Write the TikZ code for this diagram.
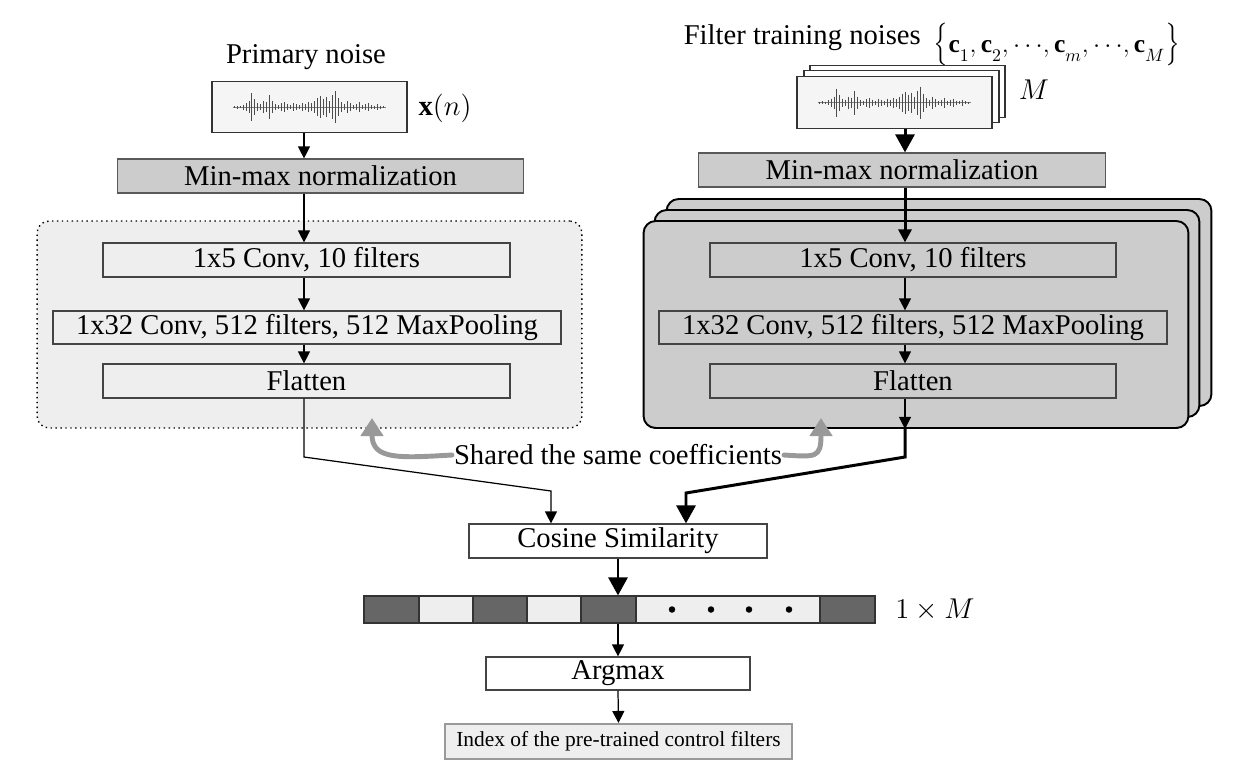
\RequirePackage{fix-cm}
\documentclass[tikz,border=0pt]{standalone}
\usepackage{amsmath}
\usepackage{amssymb}
\usepackage{graphicx}
\usepackage{fontspec}
\setmainfont{Liberation Serif}
\usepackage{tikz}
\usetikzlibrary{positioning, arrows.meta}

\definecolor{paleG}{HTML}{EEEEEE}
\definecolor{midG}{HTML}{CCCCCC}
\definecolor{darkG}{HTML}{666666}
\definecolor{edgeG}{HTML}{444444}
\definecolor{shareG}{HTML}{999999}

\newcommand{\csub}[1]{\mathbf{c}_{\lower2.5pt\hbox{$\scriptstyle #1$}}}
\newcommand{\tallbrace}[1]{\scalebox{1}[1.4]{$\big#1$}}

\tikzset{
  blk/.style={draw=edgeG, line width=0.7pt, inner sep=0pt, minimum height=0.68cm},
  normbox/.style={blk, fill=midG, draw=black!65, minimum width=8.13cm},
  wavebox/.style={draw=black!80, line width=0.7pt, minimum width=3.9cm, minimum height=1.03cm},
  panel/.style={rounded corners=0.24cm, minimum width=10.9cm, minimum height=4.14cm},
  cell/.style={draw=black!80, line width=0.7pt, inner sep=0pt, minimum height=0.54cm},
  arr/.style={-{Triangle[length=0.24cm,width=0.24cm]}, line width=0.7pt},
  thickarr/.style={-{Triangle[length=0.26cm,width=0.26cm]}, line width=1.7pt},
  bigarr/.style={-{Triangle[length=0.36cm,width=0.38cm]}, line width=1.7pt},
  sharearr/.style={-{Triangle[length=0.36cm,width=0.44cm]}, line width=2.8pt, draw=shareG, line cap=round},
  pics/noisewave/.style={code={
    \draw[line width=0.3pt, gray] (-77,0) -- (76,0);
    \foreach \dx/\h in {-75/1,-72/1.5,-69/1,-66/2.5,-63/4,-60/6,-58/14,-55/8,-52/4,-49/3,
                        -46/6,-43/5,-40/12,-37/6,-34/3,-31/2,-28/4,-25/5,-22/3,-19/2,
                        -16/4,-13/3,-10/2,-7/4,-4/3,-1/5,2/4,5/6,8/9,11/11,14/8,17/10,
                        20/6,23/12,26/16,29/9,32/5,35/3,38/6,41/4,44/2,47/3,50/5,53/2,
                        56/3,59/4,62/2,65/1.5,68/3,71/1.5,74/1}
      \draw[line width=0.45pt, black!70] (\dx,-\h) -- (\dx,\h);
  }}
}

\begin{document}
\begin{tikzpicture}[x=0.02cm, y=-0.02cm, font=\fontsize{16.3}{19}\selectfont]
\useasboundingbox (0,0) rectangle (1252,779);

% left branch: primary noise
\node (primlbl) at (306,57) {Primary noise};
\node[wavebox, fill=paleG!60!white] (xbox) at (309.5,107) {};
\pic at (xbox.center) {noisewave};
\node (xlbl) at (445,108) {$\mathbf{x}(n)$};
\node[normbox] (normL) at (320.5,176) {Min-max normalization};

\node[panel, draw=black, dotted, line width=0.8pt, fill=paleG] (regionL) at (309.5,324.5) {};
\node[blk, fill=paleG, minimum width=8.14cm] (conv1L) at (306.5,260) {1x5 Conv, 10 filters};
\node[blk, fill=paleG, minimum width=10.16cm, minimum height=0.66cm] (conv2L) at (307,327.5) {1x32 Conv, 512 filters, 512 MaxPooling};
\node[blk, fill=paleG, minimum width=8.14cm] (flatL) at (306.5,381) {Flatten};

% right branch: filter training noises
\node[inner sep=0pt] (trainlbl) at (932,44) {Filter training noises\hspace{0.45em}\raisebox{-5pt}{\fontsize{14.5}{17}\selectfont
  $\tallbrace{\{}\csub{1},\csub{2},{\cdots},\csub{m},{\cdots},\csub{M}\tallbrace{\}}$}};
\node[wavebox, fill=white] (waveR3) at (907.5,91.5) {};
\node[wavebox, fill=white] (waveR2) at (901.5,96.5) {};
\node[wavebox, fill=paleG!60!white] (waveR) at (894.5,102.5) {};
\pic at (waveR.center) {noisewave};
\node (mlbl) at (1034,90) {$M$};
\node[normbox] (normR) at (902,170) {Min-max normalization};

\node[panel, draw=black, line width=1.1pt, fill=midG] (stackB) at (939,302.5) {};
\node[panel, draw=black, line width=1.1pt, fill=midG] (stackM) at (927,313.5) {};
\node[panel, draw=black, line width=1.1pt, fill=midG] (stackF) at (916,324.5) {};
\node[blk, fill=midG, minimum width=8.12cm] (conv1R) at (913,260) {1x5 Conv, 10 filters};
\node[blk, fill=midG, minimum width=10.16cm, minimum height=0.66cm] (conv2R) at (913,327.5) {1x32 Conv, 512 filters, 512 MaxPooling};
\node[blk, fill=midG, minimum width=8.12cm] (flatR) at (913,381) {Flatten};

% matching part
\node[inner sep=1pt] (shared) at (618,455) {Shared the same coefficients};
\node[blk, fill=white, minimum width=5.96cm] (cosine) at (618,541) {Cosine Similarity};

\foreach \i/\xc/\w/\c in {1/391.5/55/darkG, 2/446/54/paleG, 3/500/54/darkG, 4/554/54/paleG,
                          5/608.5/55/darkG, 6/728/184/paleG, 7/847.5/55/darkG}
  \node[cell, fill=\c, minimum width=\w*0.02cm] (cell\i) at (\xc,609.5) {};
\foreach \dx in {672,711,749,789}
  \fill (\dx,609.5) circle[radius=0.065cm];
\node (onexm) at (935,610) {$1\times M$};

\node[blk, fill=white, minimum width=5.28cm, minimum height=0.66cm] (argmax) at (618,673.5) {Argmax};
\node[draw=shareG, line width=1.2pt, fill=paleG, inner sep=0pt, minimum width=6.94cm, minimum height=0.7cm,
      font=\fontsize{12.2}{14}\selectfont] (index) at (618.5,741.5) {Index of the pre-trained control filters};

% connectors
\coordinate (spineL) at (304,0);
\coordinate (spineR) at (905,0);
\draw[arr] (spineL |- xbox.south) -- (spineL |- normL.north);
\draw[arr] (spineL |- normL.south) -- (spineL |- conv1L.north);
\draw[arr] (spineL |- conv1L.south) -- (spineL |- conv2L.north);
\draw[arr] (spineL |- conv2L.south) -- (spineL |- flatL.north);
\coordinate (bendL) at (304,457);
\coordinate (kneeL) at (551,491);
\draw[arr] (spineL |- flatL.south) -- (bendL) -- (kneeL) -- (kneeL |- cosine.north);

\draw[bigarr] (spineR |- waveR.south) -- (spineR |- normR.north);
\draw[thickarr] (spineR |- normR.south) -- (spineR |- conv1R.north);
\draw[arr] (spineR |- conv1R.south) -- (spineR |- conv2R.north);
\draw[arr] (spineR |- conv2R.south) -- (spineR |- flatR.north);
\draw[arr] (spineR |- flatR.south) -- (spineR |- stackF.south);
\coordinate (bendR) at (905,457);
\coordinate (kneeR) at (686,493);
\draw[bigarr] (spineR |- stackF.south) -- (bendR) -- (kneeR) -- (kneeR |- cosine.north);

\draw[bigarr] (cosine.south) -- (cosine.south |- cell5.north);
\draw[arr] (argmax.north |- cell5.south) -- (argmax.north);
\draw[arr] (argmax.south) -- (index.north);

% shared coefficients
\coordinate (tipL) at (372,418);
\coordinate (tipR) at (821,418);
\draw[sharearr] (shared.west) .. controls +(-52,3) and +(0,42) .. (tipL);
\draw[sharearr] (shared.east) .. controls +(32,2) and +(0,40) .. (tipR);

\end{tikzpicture}
\end{document}
